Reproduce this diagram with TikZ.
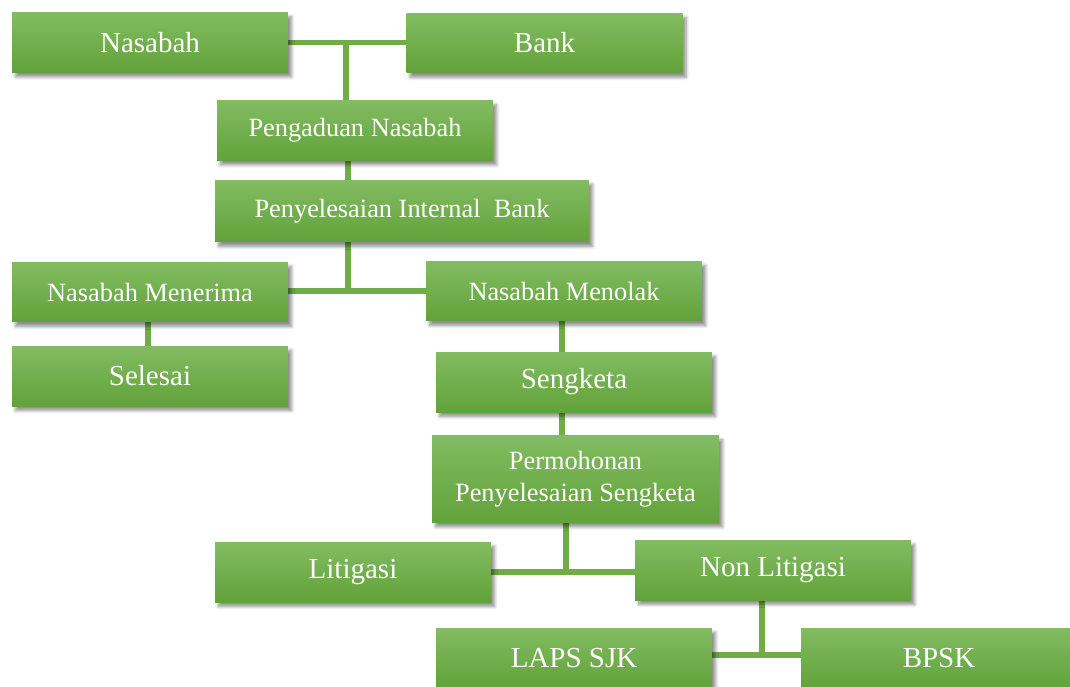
\documentclass[tikz,border=0pt]{standalone}
\usepackage{fontspec}
\setmainfont{Liberation Serif}
\usepackage{xcolor}
\usetikzlibrary{backgrounds, shadows.blur}

\definecolor{boxtop}{HTML}{82BC62}
\definecolor{boxbottom}{HTML}{62A23A}
\definecolor{linkgreen}{HTML}{70AD47}

\tikzset{
    stepbox/.style={rectangle, top color=boxtop, bottom color=boxbottom,
        text=white, minimum width=5.52cm, minimum height=1.2cm,
        blur shadow={shadow xshift=2pt, shadow yshift=-2.5pt, shadow blur steps=6, shadow opacity=45},
        font=\fontsize{15}{18}\selectfont, align=center},
    bigtext/.style={font=\fontsize{16.5}{19}\selectfont},
    link/.style={draw=linkgreen, line width=3.4pt}
}

\begin{document}
\begin{tikzpicture}[x=0.02cm, y=-0.02cm]
        \useasboundingbox (0,0) rectangle (1070,686);

        % Top row
        \node[stepbox, bigtext] (nasabah) at (150,42.5) {Nasabah};
        \node[stepbox, bigtext] (bank) at (544.5,43) {Bank};

        % Complaint and internal settlement
        \node[stepbox] (pengaduan) at (355,130.5) {Pengaduan Nasabah};
        \node[stepbox, minimum width=7.48cm, minimum height=1.24cm] (internal) at (402,211) {Penyelesaian Internal~~Bank};

        % Outcome of internal settlement
        \node[stepbox] (menerima) at (150,292) {Nasabah Menerima};
        \node[stepbox] (menolak) at (564,291) {Nasabah Menolak};
        \node[stepbox, bigtext] (selesai) at (150,376) {Selesai};
        \node[stepbox, bigtext] (sengketa) at (574,382) {Sengketa};

        % Dispute settlement
        \node[stepbox, minimum width=5.74cm, minimum height=1.74cm] (permohonan) at (575.5,479) {Permohonan\\Penyelesaian Sengketa};
        \node[stepbox, bigtext] (litigasi) at (353,572) {Litigasi};
        \node[stepbox, bigtext] (nonlitigasi) at (773,570) {Non Litigasi};
        \node[stepbox, bigtext] (laps) at (574,658) {LAPS SJK};
        \node[stepbox, bigtext] (bpsk) at (939,658) {BPSK};

        % Junctions
        \coordinate (jtop) at (346,42.5);
        \coordinate (jmid) at (348,291);
        \coordinate (jlow) at (566,572);
        \coordinate (jbot) at (762,655);

        % Relationships
        \begin{scope}[on background layer]
            \draw[link] (nasabah.east |- jtop) -- (bank.west |- jtop);
            \draw[link] (jtop) -- (jtop |- pengaduan.north);
            \draw[link] (pengaduan.south -| jmid) -- (internal.north -| jmid);
            \draw[link] (internal.south -| jmid) -- (jmid);
            \draw[link] (menerima.east |- jmid) -- (menolak.west |- jmid);
            \draw[link] ([xshift=-0.04cm]menerima.south) -- ([xshift=-0.04cm]selesai.north);
            \draw[link] (menolak.south -| 562,0) -- (sengketa.north -| 562,0);
            \draw[link] (sengketa.south -| 562,0) -- (permohonan.north -| 562,0);
            \draw[link] (permohonan.south -| jlow) -- (jlow);
            \draw[link] (litigasi.east |- jlow) -- (nonlitigasi.west |- jlow);
            \draw[link] (nonlitigasi.south -| jbot) -- (jbot);
            \draw[link] (laps.east |- jbot) -- (bpsk.west |- jbot);
        \end{scope}
    \end{tikzpicture}
\end{document}
